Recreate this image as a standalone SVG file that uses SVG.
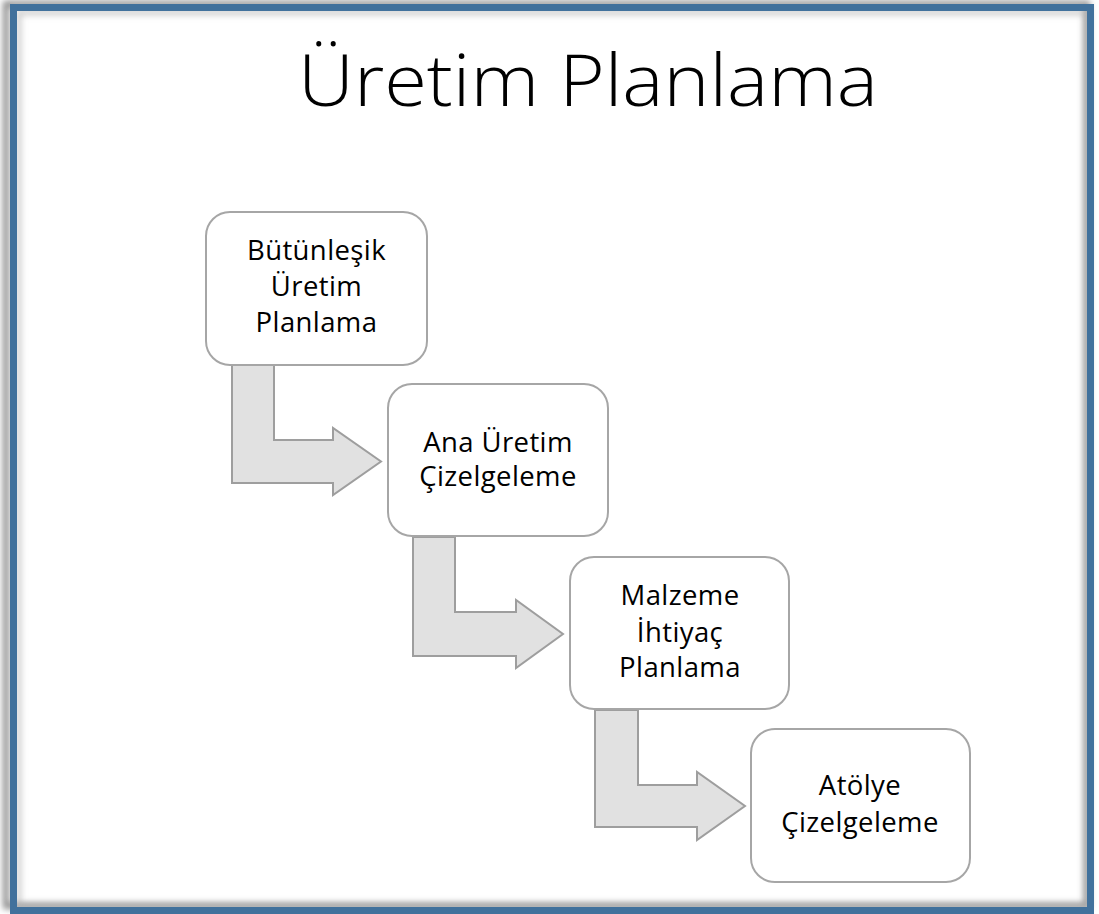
<svg xmlns="http://www.w3.org/2000/svg" width="1099" height="914" viewBox="0 0 1099 914">
<style>
.box{fill:#ffffff;stroke:#a6a6a6;stroke-width:2}
.arr{fill:#e1e1e1;stroke:#9e9e9e;stroke-width:2;stroke-linejoin:miter}
.t{font-family:"Open Sans","Liberation Sans",sans-serif;font-size:27.5px;letter-spacing:0.4px;fill:#000;text-anchor:middle}
.title{font-family:"Open Sans","Liberation Sans",sans-serif;font-size:72px;fill:#000;text-anchor:middle;font-weight:300}
</style>
<defs>
<filter id="sh" x="-5%" y="-5%" width="110%" height="110%">
<feGaussianBlur stdDeviation="3"/>
</filter>
</defs>
<rect width="1099" height="914" fill="#ffffff"/>
<g id="frame">
<rect x="9" y="6" width="1081" height="902" fill="none" stroke="#8c8c8c" stroke-width="6" filter="url(#sh)" transform="translate(-3,-2)"/>
<rect x="17" y="11" width="1068" height="894" fill="none" stroke="#b0b0b0" stroke-width="3" filter="url(#sh)" transform="translate(2,2)"/>
<rect x="13.5" y="7.5" width="1077" height="903" fill="none" stroke="#41719c" stroke-width="7"/>
</g>
<g id="title"><text class="title" x="588" y="106" textLength="580" lengthAdjust="spacingAndGlyphs">Üretim Planlama</text></g>
<g id="connectors">
<path class="arr" d="M232,365 L274,365 L274,440 L333,440 L333,428 L381,461.5 L333,495 L333,483 L232,483 Z"/>
<path class="arr" d="M413,537 L455,537 L455,612 L516,612 L516,600 L563,634 L516,668 L516,656 L413,656 Z"/>
<path class="arr" d="M595,710 L638,710 L638,785 L697,785 L697,772 L745,806 L697,840 L697,827 L595,827 Z"/>
</g>
<g id="n1">
<rect class="box" x="206" y="212" width="221" height="153" rx="24"/>
<text class="t" x="316.5" y="260">Bütünleşik</text>
<text class="t" x="316.5" y="296">Üretim</text>
<text class="t" x="316.5" y="332">Planlama</text>
</g>
<g id="n2">
<rect class="box" x="388" y="384" width="220" height="152" rx="24"/>
<text class="t" x="498" y="452">Ana Üretim</text>
<text class="t" x="498" y="486">Çizelgeleme</text>
</g>
<g id="n3">
<rect class="box" x="570" y="557" width="219" height="152" rx="24"/>
<text class="t" x="680" y="605">Malzeme</text>
<text class="t" x="680" y="642">İhtiyaç</text>
<text class="t" x="680" y="677">Planlama</text>
</g>
<g id="n4">
<rect class="box" x="751" y="729" width="219" height="153" rx="24"/>
<text class="t" x="860" y="795">Atölye</text>
<text class="t" x="860" y="832">Çizelgeleme</text>
</g>
</svg>
